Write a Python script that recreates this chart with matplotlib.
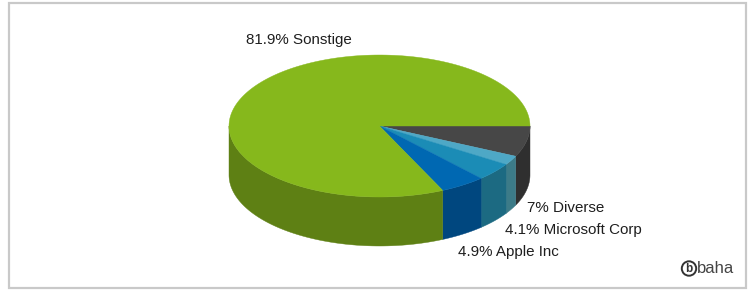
import numpy as np
import matplotlib
matplotlib.use("Agg")
import matplotlib.pyplot as plt
from matplotlib.patches import Polygon, Rectangle, Circle

# ---- data ----
labels = ["Diverse", "", "Microsoft Corp", "Apple Inc", "Sonstige"]
values = [7.0, 2.1, 4.1, 4.9, 81.9]
label_texts = ["7% Diverse", "", "4.1% Microsoft Corp", "4.9% Apple Inc", "81.9% Sonstige"]
top_colors = ["#474747", "#4ea8c6", "#1b8cb6", "#0068b2", "#86b81c"]
side_colors = ["#2f2f2f", "#3c7b88", "#1c6a82", "#00477f", "#5e8014"]

# ---- layout ----
W, H = 754, 291
cx, cy = 379.5, 126.0
rx, ry = 150.5, 71.0
depth = 49.0
label_pos = [(527, 208), None, (505, 230), (458, 252), (246, 40)]

fig = plt.figure(figsize=(W / 100, H / 100), dpi=100)
ax = fig.add_axes([0, 0, 1, 1])
ax.set_xlim(0, W)
ax.set_ylim(H, 0)
ax.axis("off")

plt.rcParams["font.family"] = ["Liberation Sans", "DejaVu Sans"]

# frame
ax.add_patch(Rectangle((8.5, 2.5), 737.5, 285.5, fill=False, edgecolor="#c9c9c9", lw=1.6))

total = sum(values)
angles = np.cumsum([0] + values) / total * 360.0  # clockwise on screen (y down)

def pt(t, dy=0.0):
    r = np.radians(t)
    return cx + rx * np.cos(r), cy + ry * np.sin(r) + dy

# side faces (front half only: 0..180 deg)
for i in range(len(values)):
    a0, a1 = max(angles[i], 0), min(angles[i + 1], 180)
    if a1 <= a0:
        continue
    ts = np.linspace(a0, a1, 80)
    top = [pt(t) for t in ts]
    bot = [pt(t, depth) for t in ts[::-1]]
    ax.add_patch(Polygon(top + bot, closed=True, facecolor=side_colors[i],
                         edgecolor=side_colors[i], lw=0.3))

# top faces
for i in range(len(values)):
    ts = np.linspace(angles[i], angles[i + 1], 200)
    poly = [(cx, cy)] + [pt(t) for t in ts]
    ax.add_patch(Polygon(poly, closed=True, facecolor=top_colors[i],
                         edgecolor=top_colors[i], lw=0.3))

# labels
for txt, pos in zip(label_texts, label_pos):
    if pos is None or not txt:
        continue
    ax.text(pos[0], pos[1], txt, ha="left", va="center", fontsize=10.9, color="#1e1e1e")

# watermark
ax.add_patch(Circle((689.0, 268.5), 7.2, fill=False, edgecolor="#333333", lw=1.4))
ax.text(689.0, 268.5, "b", ha="center", va="center", fontsize=8.5, fontweight="bold", color="#333333")
ax.text(697, 268.5, "baha", ha="left", va="center", fontsize=12, color="#444444")

fig.savefig("out.png", dpi=100)
